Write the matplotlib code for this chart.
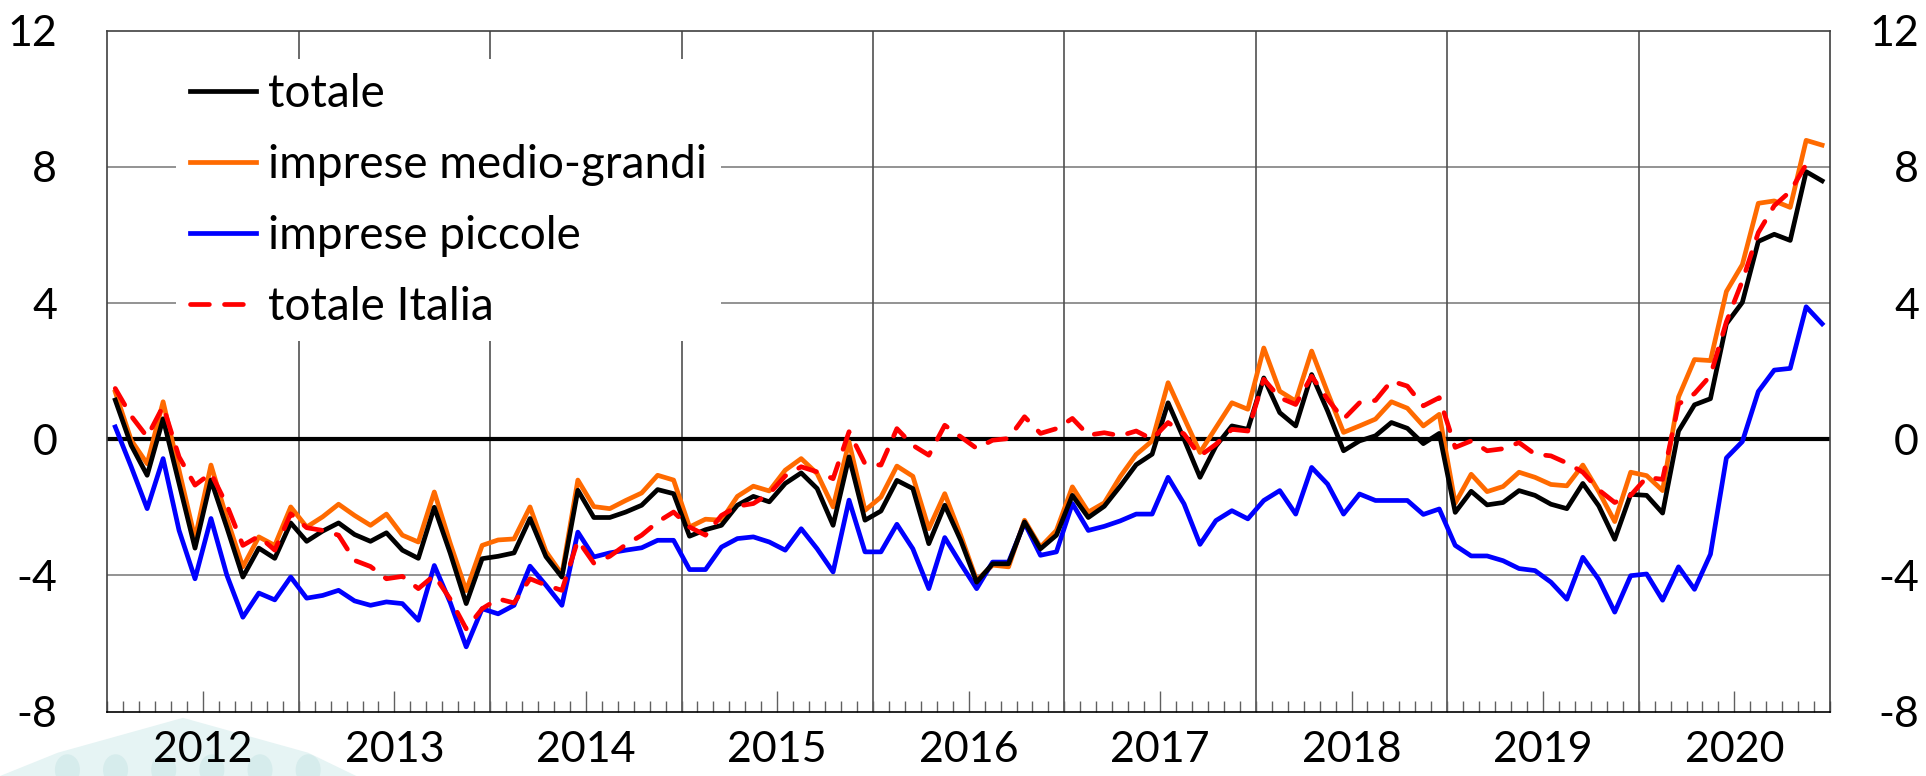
import numpy as np
import matplotlib
matplotlib.use("Agg")
import matplotlib.pyplot as plt
from matplotlib.ticker import FixedLocator, NullFormatter
from matplotlib.patches import Polygon, Ellipse

# monthly data, Jan 2012 - Dec 2020 (percent changes)
years = list(range(2012, 2021))

totale = [
    1.15, -0.18, -1.06, 0.60, -1.30, -3.20, -1.20, -2.60, -4.05, -3.20, -3.50, -2.46,
    -3.00, -2.70, -2.46, -2.80, -3.00, -2.75, -3.26, -3.50, -2.00, -3.35, -4.83, -3.51,
    -3.44, -3.34, -2.33, -3.45, -4.05, -1.50, -2.30, -2.30, -2.14, -1.94, -1.48, -1.60,
    -2.85, -2.66, -2.53, -1.94, -1.68, -1.84, -1.30, -0.99, -1.45, -2.53, -0.52, -2.38,
    -2.11, -1.21, -1.45, -3.07, -1.94, -2.97, -4.20, -3.66, -3.66, -2.43, -3.22, -2.82,
    -1.65, -2.30, -1.97, -1.38, -0.75, -0.44, 1.07, 0.00, -1.12, -0.20, 0.39, 0.29,
    1.80, 0.78, 0.39, 1.90, 0.83, -0.34, -0.05, 0.10, 0.49, 0.32, -0.13, 0.17,
    -2.15, -1.53, -1.93, -1.86, -1.51, -1.65, -1.91, -2.04, -1.30, -1.96, -2.94, -1.62,
    -1.65, -2.17, 0.24, 1.01, 1.19, 3.39, 4.02, 5.81, 6.02, 5.84, 7.86, 7.59,
]

medio_grandi = [
    1.39, -0.03, -0.72, 1.10, -0.91, -2.92, -0.76, -2.33, -3.75, -2.87, -3.12, -1.99,
    -2.58, -2.28, -1.91, -2.24, -2.53, -2.20, -2.82, -3.02, -1.55, -3.06, -4.45, -3.12,
    -2.96, -2.93, -1.99, -3.30, -3.97, -1.20, -1.98, -2.04, -1.80, -1.58, -1.06, -1.20,
    -2.58, -2.35, -2.38, -1.68, -1.38, -1.52, -0.91, -0.57, -1.01, -1.99, -0.08, -2.09,
    -1.70, -0.79, -1.09, -2.63, -1.60, -2.82, -4.15, -3.70, -3.75, -2.38, -3.17, -2.68,
    -1.40, -2.14, -1.87, -1.10, -0.45, -0.05, 1.66, 0.63, -0.39, 0.34, 1.07, 0.88,
    2.68, 1.41, 1.12, 2.59, 1.37, 0.20, 0.39, 0.59, 1.10, 0.91, 0.39, 0.73,
    -1.88, -1.03, -1.54, -1.39, -0.97, -1.12, -1.33, -1.37, -0.76, -1.54, -2.42, -0.97,
    -1.07, -1.51, 1.24, 2.34, 2.31, 4.34, 5.13, 6.93, 7.00, 6.81, 8.78, 8.64,
]

piccole = [
    0.36, -0.81, -2.04, -0.57, -2.68, -4.10, -2.33, -4.00, -5.23, -4.52, -4.72, -4.05,
    -4.67, -4.59, -4.44, -4.75, -4.88, -4.78, -4.83, -5.32, -3.71, -4.80, -6.10, -4.98,
    -5.13, -4.88, -3.73, -4.29, -4.88, -2.73, -3.46, -3.34, -3.26, -3.19, -2.97, -2.97,
    -3.83, -3.83, -3.17, -2.92, -2.87, -3.02, -3.26, -2.63, -3.22, -3.90, -1.79, -3.31,
    -3.31, -2.50, -3.22, -4.39, -2.89, -3.66, -4.39, -3.61, -3.61, -2.46, -3.41, -3.31,
    -1.89, -2.68, -2.56, -2.40, -2.20, -2.20, -1.12, -1.90, -3.09, -2.39, -2.10, -2.34,
    -1.80, -1.51, -2.20, -0.83, -1.32, -2.20, -1.61, -1.80, -1.80, -1.80, -2.21, -2.05,
    -3.12, -3.43, -3.43, -3.57, -3.80, -3.86, -4.20, -4.70, -3.47, -4.12, -5.08, -4.01,
    -3.96, -4.73, -3.75, -4.41, -3.38, -0.55, -0.07, 1.40, 2.03, 2.08, 3.89, 3.39,
]

# totale Italia ends in Nov 2020
totale_italia = [
    1.49, 0.68, 0.07, 0.97, -0.52, -1.35, -1.00, -1.94, -3.12, -2.85, -3.26, -2.19,
    -2.60, -2.68, -2.82, -3.56, -3.74, -4.10, -4.03, -4.39, -4.00, -4.70, -5.57, -4.98,
    -4.69, -4.81, -4.10, -4.29, -4.44, -2.97, -3.64, -3.44, -3.10, -2.82, -2.43, -2.14,
    -2.58, -2.82, -2.24, -1.97, -1.89, -1.60, -1.08, -0.81, -0.96, -1.16, 0.22, -0.72,
    -0.76, 0.31, -0.18, -0.47, 0.41, 0.07, -0.27, -0.03, 0.02, 0.66, 0.17, 0.31,
    0.61, 0.12, 0.19, 0.10, 0.24, 0.00, 0.49, 0.15, -0.49, -0.15, 0.29, 0.24,
    1.76, 1.22, 1.02, 1.85, 1.17, 0.59, 1.07, 1.14, 1.71, 1.56, 0.98, 1.22,
    -0.24, -0.05, -0.34, -0.28, -0.10, -0.44, -0.49, -0.70, -0.97, -1.49, -1.86, -1.65,
    -1.12, -1.18, 1.03, 1.34, 1.87, 3.45, 4.65, 6.07, 6.86, 7.28, 8.07,
]

yticks = [-8, -4, 0, 4, 8, 12]

plt.rcParams["font.family"] = ["Lato", "DejaVu Sans"]
plt.rcParams["axes.unicode_minus"] = False
fs = 31

fig = plt.figure(figsize=(19.26, 7.76), dpi=100)

# faint logo watermark in the lower left corner (decoration only)
fig.patches.append(Polygon([[0.0, 0.0], [0.03, 0.03], [0.095, 0.075], [0.16, 0.03],
                            [0.185, 0.0]], closed=True, transform=fig.transFigure,
                           facecolor="#e6f4f4", edgecolor="none", zorder=-2))
for cx in [0.035, 0.06, 0.085, 0.11, 0.135, 0.16]:
    fig.patches.append(Ellipse((cx, 0.008), 0.013, 0.04, transform=fig.transFigure,
                               facecolor="#d6ecec", edgecolor="none", zorder=-1))

ax = fig.add_axes([0.0557, 0.0831, 0.8945, 0.8773])
ax.patch.set_alpha(0)

n = len(totale)
ax.set_xlim(-0.5, n - 0.5)
ax.set_ylim(-8, 12)

# grid: horizontal at y ticks, vertical at year boundaries
for y in yticks[1:-1]:
    if y != 0:
        ax.axhline(y, color="#808080", lw=1.2, zorder=1)
for k in range(1, len(years)):
    ax.axvline(12 * k - 0.5, color="#505050", lw=1.2, zorder=1)
ax.axhline(0, color="black", lw=3.0, zorder=2)

lw = 3.4
ax.plot(np.arange(n), totale, color="black", lw=lw, solid_joinstyle="round",
        label="totale", zorder=4)
ax.plot(np.arange(n), medio_grandi, color="#FF6A00", lw=lw, solid_joinstyle="round",
        label="imprese medio-grandi", zorder=3)
ax.plot(np.arange(n), piccole, color="#0000FF", lw=lw, solid_joinstyle="round",
        label="imprese piccole", zorder=3)
ax.plot(np.arange(len(totale_italia)), totale_italia, color="#FF0000", lw=lw,
        dashes=(4.0, 3.2), dash_capstyle="round", label="totale Italia", zorder=5)

# x axis: month ticks inside, taller tick mid-year with year label
ax.xaxis.set_major_locator(FixedLocator([12 * k + 5.5 for k in range(len(years))]))
ax.set_xticklabels([str(y) for y in years])
ax.xaxis.set_minor_locator(FixedLocator([m - 0.5 for m in range(n + 1)]))
ax.xaxis.set_minor_formatter(NullFormatter())
ax.tick_params(axis="x", which="major", direction="in", length=15, width=1.0,
               color="#606060", labelsize=fs, pad=14)
ax.tick_params(axis="x", which="minor", direction="in", length=8, width=1.0,
               color="#606060")

ax.set_yticks(yticks)
ax.tick_params(axis="y", length=0, labelsize=fs, pad=36)
for s in ax.spines.values():
    s.set_color("#404040")
    s.set_linewidth(1.2)
ax.spines["bottom"].set_color("black")

ax2 = ax.twinx()
ax2.set_ylim(ax.get_ylim())
ax2.set_yticks(yticks)
ax2.tick_params(axis="y", length=0, labelsize=fs, pad=64)
for lab in ax2.get_yticklabels():
    lab.set_horizontalalignment("right")
for s in ax2.spines.values():
    s.set_visible(False)

leg = ax.legend(loc="upper left", bbox_to_anchor=(0.04, 0.958), fontsize=33,
                frameon=True, facecolor="white", edgecolor="none", framealpha=1,
                handlelength=1.45, handletextpad=0.25, labelspacing=0.63,
                borderpad=0.3, borderaxespad=0)
leg.set_zorder(6)

plt.savefig("out.png", dpi=100)
